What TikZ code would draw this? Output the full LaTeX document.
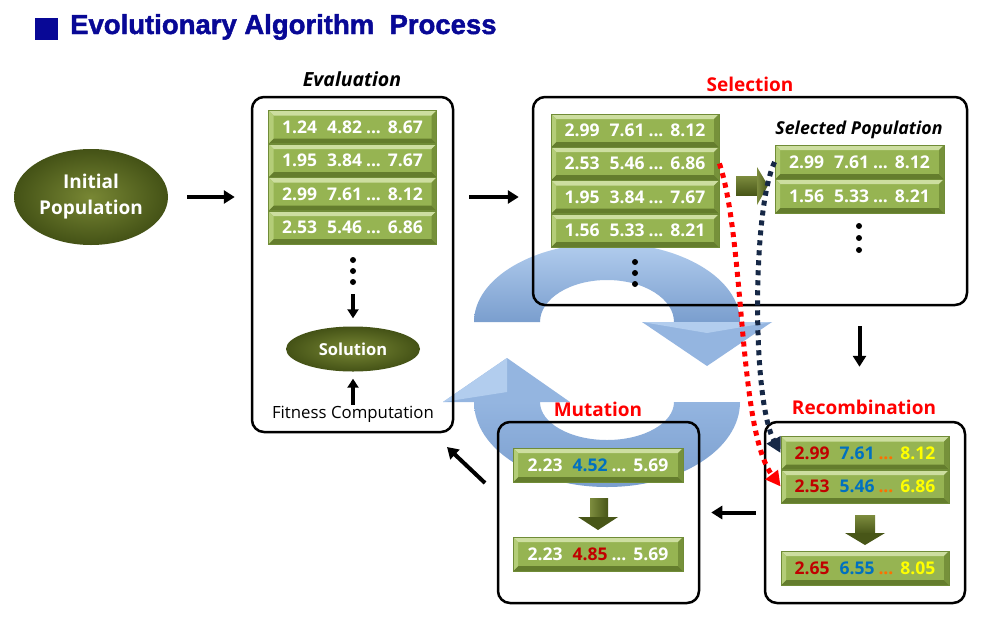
\documentclass[tikz,border=0pt]{standalone}
\usepackage{fontspec}
\setmainfont{Open Sans}
\newfontfamily\titlefont[BoldFeatures={FakeBold=1.6}]{Liberation Sans}
\usetikzlibrary{shapes.geometric,arrows.meta}
\definecolor{titleblue}{RGB}{8,8,150}
\definecolor{barmain}{RGB}{150,180,82}
\definecolor{barborder}{RGB}{112,140,55}
\definecolor{bartop}{RGB}{205,222,160}
\definecolor{barbot}{RGB}{100,125,45}
\definecolor{barleft}{RGB}{180,205,120}
\definecolor{barright}{RGB}{118,145,58}
\definecolor{olivelight}{RGB}{120,135,52}
\definecolor{olivedark}{RGB}{68,82,22}
\definecolor{blklight}{RGB}{125,140,62}
\definecolor{blkdark}{RGB}{72,86,24}
\definecolor{ringlight}{RGB}{178,205,238}
\definecolor{ringmid}{RGB}{148,181,224}
\definecolor{ringdark}{RGB}{122,158,206}
\definecolor{numred}{RGB}{192,0,0}
\definecolor{numblue}{RGB}{0,112,192}
\definecolor{numorange}{RGB}{255,110,0}
\definecolor{numyellow}{RGB}{255,255,0}
\definecolor{navydot}{RGB}{22,40,70}
\newcommand{\vrow}[4]{#1\hspace{10pt}#2\hspace{4pt}#3\hspace{7pt}#4}
\newcommand{\vcol}[4]{\vrow{\textcolor{numred}{#1}}{\textcolor{numblue}{#2}}{\textcolor{numorange}{#3}}{\textcolor{numyellow}{#4}}}
\begin{document}
\begin{tikzpicture}[x=1pt,y=-1pt,
  box/.style={draw=black, line width=2.5pt, rounded corners=12pt, inner sep=0pt},
  gbar/.style={draw=barborder, line width=0.8pt, fill=barmain, minimum width=168pt, minimum height=33pt,
    inner sep=0pt, text=white, font=\bfseries\fontsize{17.5}{19}\selectfont,
    path picture={
      \fill[bartop] (path picture bounding box.north west) -- (path picture bounding box.north east)
        -- ([xshift=-5pt,yshift=-5pt]path picture bounding box.north east)
        -- ([xshift=5pt,yshift=-5pt]path picture bounding box.north west) -- cycle;
      \fill[barbot] (path picture bounding box.south west) -- (path picture bounding box.south east)
        -- ([xshift=-5pt,yshift=5pt]path picture bounding box.south east)
        -- ([xshift=5pt,yshift=5pt]path picture bounding box.south west) -- cycle;
      \fill[barleft] (path picture bounding box.north west) -- (path picture bounding box.south west)
        -- ([xshift=5pt,yshift=5pt]path picture bounding box.south west)
        -- ([xshift=5pt,yshift=-5pt]path picture bounding box.north west) -- cycle;
      \fill[barright] (path picture bounding box.north east) -- (path picture bounding box.south east)
        -- ([xshift=-5pt,yshift=5pt]path picture bounding box.south east)
        -- ([xshift=-5pt,yshift=-5pt]path picture bounding box.north east) -- cycle;
    }},
  olive/.style={ellipse, inner color=olivelight, outer color=olivedark, text=white, inner sep=0pt},
  bigarr/.style={line width=4pt, -{Triangle[length=11pt,width=13pt]}},
  smallarr/.style={line width=3.5pt, -{Triangle[length=9pt,width=11pt]}},
  dotarr/.style={line width=5pt, dash pattern=on 5pt off 5pt, -{Triangle[length=15pt,width=15pt]}},
  redlabel/.style={text=red, font=\bfseries\fontsize{19}{22}\selectfont},
  itlabel/.style={font=\bfseries\itshape\fontsize{19.5}{22}\selectfont},
  dotmark/.style={circle, fill=black, inner sep=0pt, minimum size=6pt}
]
\useasboundingbox (0,0) rectangle (1000,616);
\fill[white] (0,0) rectangle (1000,616);

% title
\fill[titleblue] (35,18) rectangle (58,40);
\node[anchor=base west, inner sep=0pt, text=titleblue, font=\titlefont\bfseries\fontsize{27.5}{30}\selectfont] (ttl) at (70,34) {Evolutionary Algorithm\ \ Process};

% circular arrows
\shade[top color=ringlight, bottom color=ringdark]
  (474,322) arc[start angle=180, end angle=360, x radius=133, y radius=79]
  -- (674,322) arc[start angle=0, end angle=-180, x radius=67, y radius=42] -- cycle;
\fill[ringmid] (642,322) -- (772,322) -- (707,366) -- cycle;
\fill[ringlight] (642,322) -- (772,322) -- (707,333) -- cycle;
\shade[top color=ringmid, bottom color=ringdark]
  (740,402) arc[start angle=0, end angle=180, x radius=133, y radius=85]
  -- (540,402) arc[start angle=180, end angle=0, x radius=67, y radius=38] -- cycle;
\fill[ringmid] (443,402) -- (570,402) -- (507,358) -- cycle;
\fill[ringlight] (443,402) -- (507,358) -- (507,392) -- cycle;

% initial population
\node[olive, minimum width=154pt, minimum height=96pt, align=center, font=\bfseries\fontsize{19}{26}\selectfont] (init) at (91,197) {Initial\\Population};

% evaluation
\node[itlabel] (evallbl) at (352,79) {Evaluation};
\node[box, minimum width=201pt, minimum height=335pt] (eval) at (352.5,264.5) {};
\node[gbar] (e1) at (352.5,127) {\vrow{1.24}{4.82}{...}{8.67}};
\node[gbar] (e2) at (352.5,160.5) {\vrow{1.95}{3.84}{...}{7.67}};
\node[gbar] (e3) at (352.5,194) {\vrow{2.99}{7.61}{...}{8.12}};
\node[gbar] (e4) at (352.5,227.5) {\vrow{2.53}{5.46}{...}{6.86}};
\node[dotmark] (ed1) at (353,260) {};
\node[dotmark] (ed2) at (353,271) {};
\node[dotmark] (ed3) at (353,282) {};
\node[olive, minimum width=134pt, minimum height=45pt, font=\bfseries\fontsize{16.5}{18}\selectfont] (sol) at (353,349) {Solution};
\node[font=\fontsize{16.8}{19}\selectfont, inner sep=1pt] (fit) at (353,414) {Fitness Computation};
\draw[smallarr, shorten <=9pt, shorten >=8pt] (ed3) -- (sol.north);
\draw[smallarr, shorten <=0pt, shorten >=7pt] (fit.north) -- (sol.south);

% selection
\node[redlabel] (sellbl) at (750,84) {Selection};
\node[box, minimum width=434pt, minimum height=208pt] (sel) at (750,201) {};
\node[gbar] (s1) at (635,130.5) {\vrow{2.99}{7.61}{...}{8.12}};
\node[gbar] (s2) at (635,163.5) {\vrow{2.53}{5.46}{...}{6.86}};
\node[gbar] (s3) at (635,197) {\vrow{1.95}{3.84}{...}{7.67}};
\node[gbar] (s4) at (635,230.5) {\vrow{1.56}{5.33}{...}{8.21}};
\node[dotmark] (sd1) at (635,262) {};
\node[dotmark] (sd2) at (635,273) {};
\node[dotmark] (sd3) at (635,284) {};
\shade[top color=blklight, bottom color=blkdark] (736,176) rectangle (757,195);
\shade[left color=blklight, right color=blkdark] (757,167) -- (768,185.5) -- (757,205) -- cycle;
\node[itlabel, font=\bfseries\itshape\fontsize{17.8}{21}\selectfont] (selpop) at (859,130) {Selected Population};
\node[gbar, minimum width=169pt, minimum height=34pt] (p1) at (859.5,162) {\vrow{2.99}{7.61}{...}{8.12}};
\node[gbar, minimum width=169pt, minimum height=34pt] (p2) at (859.5,196) {\vrow{1.56}{5.33}{...}{8.21}};
\node[dotmark] (pd1) at (859,226) {};
\node[dotmark] (pd2) at (859,238) {};
\node[dotmark] (pd3) at (859,250) {};

% recombination
\node[redlabel] (reclbl) at (864,407) {Recombination};
\node[box, minimum width=200pt, minimum height=181pt] (rec) at (865,512.5) {};
\node[gbar] (r1) at (865,453) {\vcol{2.99}{7.61}{...}{8.12}};
\node[gbar] (r2) at (865,486.5) {\vcol{2.53}{5.46}{...}{6.86}};
\node[gbar, minimum height=34pt] (r3) at (865,568) {\vcol{2.65}{6.55}{...}{8.05}};
\shade[top color=blklight, bottom color=blkdark] (855,515) rectangle (875,534);
\fill[blkdark] (845,533) -- (885,533) -- (865,545) -- cycle;

% mutation
\node[redlabel] (mutlbl) at (598,409) {Mutation};
\node[box, minimum width=201pt, minimum height=181pt] (mut) at (598.5,512.5) {};
\node[gbar, minimum width=170pt, minimum height=34pt] (m1) at (598,465) {\vrow{2.23}{\textcolor{numblue}{4.52}}{...}{5.69}};
\node[gbar, minimum width=170pt, minimum height=34pt] (m2) at (598,554) {\vrow{2.23}{\textcolor{numred}{4.85}}{...}{5.69}};
\shade[left color=blklight, right color=blkdark] (590,498) rectangle (608,518);
\fill[blkdark] (578,517) -- (618,517) -- (598,530) -- cycle;

% main flow arrows
\draw[bigarr, shorten <=19pt, shorten >=16pt] (init.east) -- (init.east -| eval.west);
\draw[bigarr, shorten <=15pt, shorten >=13pt] (eval.east |- init.east) -- (sel.west |- init.east);
\draw[bigarr, shorten <=20pt, shorten >=54pt] (p1 |- sel.south) -- (p1 |- rec.north);
\draw[bigarr, shorten <=8pt, shorten >=11pt] (rec.west) -- (mut.east);
\coordinate (mA) at (485,483);
\coordinate (eB) at (447,447);
\draw[bigarr] (mA) -- (eB);

% dotted selection paths
\draw[dotarr, red] (s2.east) .. controls (745,240) and (738,430) .. (r2.west);
\draw[dotarr, navydot] (p1.west) .. controls (752,210) and (752,400) .. (r1.west);
\end{tikzpicture}
\end{document}
